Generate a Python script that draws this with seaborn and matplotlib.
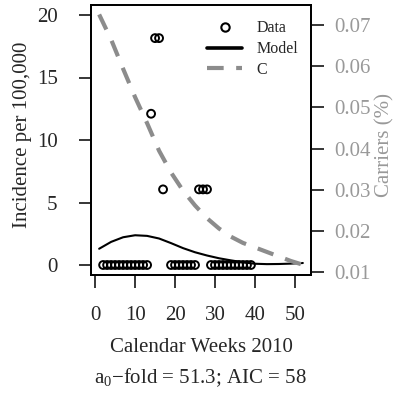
import matplotlib
matplotlib.use('Agg')
import matplotlib.pyplot as plt
from matplotlib.lines import Line2D
import seaborn as sns

# observed incidence (per 100,000) by calendar week
data_weeks = [2, 3, 4, 5, 6, 7, 8, 9, 10, 11, 12, 13, 14, 15, 16, 17,
              19, 20, 21, 22, 23, 24, 25, 26, 27, 28,
              29, 30, 31, 32, 33, 34, 35, 36, 37, 38, 39]
incidence = [0, 0, 0, 0, 0, 0, 0, 0, 0, 0, 0, 0, 12.1, 18.15, 18.15, 6.05,
             0, 0, 0, 0, 0, 0, 0, 6.05, 6.05, 6.05,
             0, 0, 0, 0, 0, 0, 0, 0, 0, 0, 0]

# model fit and carriers, read at every third week
curve_weeks = [1, 4, 7, 10, 13, 16, 19, 22, 25, 28, 31, 34, 37, 40, 43, 46, 49, 52]
model = [1.3, 1.85, 2.22, 2.38, 2.33, 2.12, 1.75, 1.35, 1.02, 0.76, 0.54, 0.37,
         0.22, 0.1, 0.07, 0.08, 0.11, 0.16]
carriers = [0.0726, 0.0665, 0.0594, 0.0525, 0.0462, 0.0395, 0.0342, 0.0298,
            0.0262, 0.0231, 0.0206, 0.0186, 0.0171, 0.0160, 0.0149, 0.0138,
            0.0127, 0.0118]

x_ticks = [0, 10, 20, 30, 40, 50]
y_ticks = [0, 5, 10, 15, 20]
c_ticks = [0.01, 0.02, 0.03, 0.04, 0.05, 0.06, 0.07]

sns.set_style('ticks')
plt.rcParams['font.family'] = ['Liberation Serif', 'DejaVu Serif']
plt.rcParams['mathtext.fontset'] = 'custom'
plt.rcParams['mathtext.rm'] = 'Liberation Serif'
plt.rcParams['mathtext.it'] = 'Liberation Serif:italic'

grey_line = '#8c8c8c'
grey_text = '#999999'

fig = plt.figure(figsize=(3.97, 3.96), dpi=100)
ax = fig.add_axes([91 / 397, 1 - 275 / 396, 220 / 397, 270 / 396])
ax2 = ax.twinx()

sns.scatterplot(x=data_weeks, y=incidence, ax=ax, marker='o', s=32,
                facecolor='none', edgecolor='black', linewidth=1.4, zorder=3)
sns.lineplot(x=curve_weeks, y=model, ax=ax, color='black', linewidth=1.5)
sns.lineplot(x=curve_weeks, y=carriers, ax=ax2, color=grey_line, linewidth=3,
             linestyle=(0, (4, 3)))

ax.set_xlim(-1.04, 54.04)
ax.set_ylim(-0.8, 20.8)
ax2.set_ylim(0.0093, 0.0749)
ax.set_xticks(x_ticks)
ax.set_yticks(y_ticks)
ax2.set_yticks(c_ticks)
ax2.set_yticklabels([f'{t:.2f}' for t in c_ticks])

for a in (ax, ax2):
    for sp in a.spines.values():
        sp.set_visible(True)
        sp.set_linewidth(1.3)
        sp.set_color('black')

ax.tick_params(axis='x', length=9, width=1.3, pad=13, labelsize=15)
ax.tick_params(axis='y', length=9, width=1.3, pad=15, labelsize=15)
ax2.tick_params(axis='y', length=9, width=1.3, pad=8, labelsize=15,
                labelcolor=grey_text)

ax.set_xlabel('Calendar Weeks 2010', fontsize=15)
ax.xaxis.set_label_coords(0.5, -0.233)
ax.set_ylabel('Incidence per 100,000', fontsize=15)
ax.yaxis.set_label_coords(-0.27, 0.52)
ax2.set_ylabel('Carriers (%)', fontsize=15, color=grey_text)
ax2.yaxis.set_label_coords(1.29, 0.48)

fig.text(0.504, 1 - 378 / 396, 'a$_0$\u2212fold = 51.3; AIC = 58',
         ha='center', va='center', fontsize=15)

handles = [
    Line2D([], [], marker='o', ls='', mfc='none', mec='black', ms=6, mew=1.5),
    Line2D([], [], color='black', lw=2.6),
    Line2D([], [], color=grey_line, lw=3, ls=(0, (4, 3))),
]
ax2.legend(handles, ['Data', 'Model', 'C'], loc='upper right', frameon=False,
           fontsize=11.5, handlelength=2.2, handletextpad=0.9, labelspacing=0.3,
           bbox_to_anchor=(1.0, 0.99), borderaxespad=0.4)

fig.savefig('out.png', dpi=100)
